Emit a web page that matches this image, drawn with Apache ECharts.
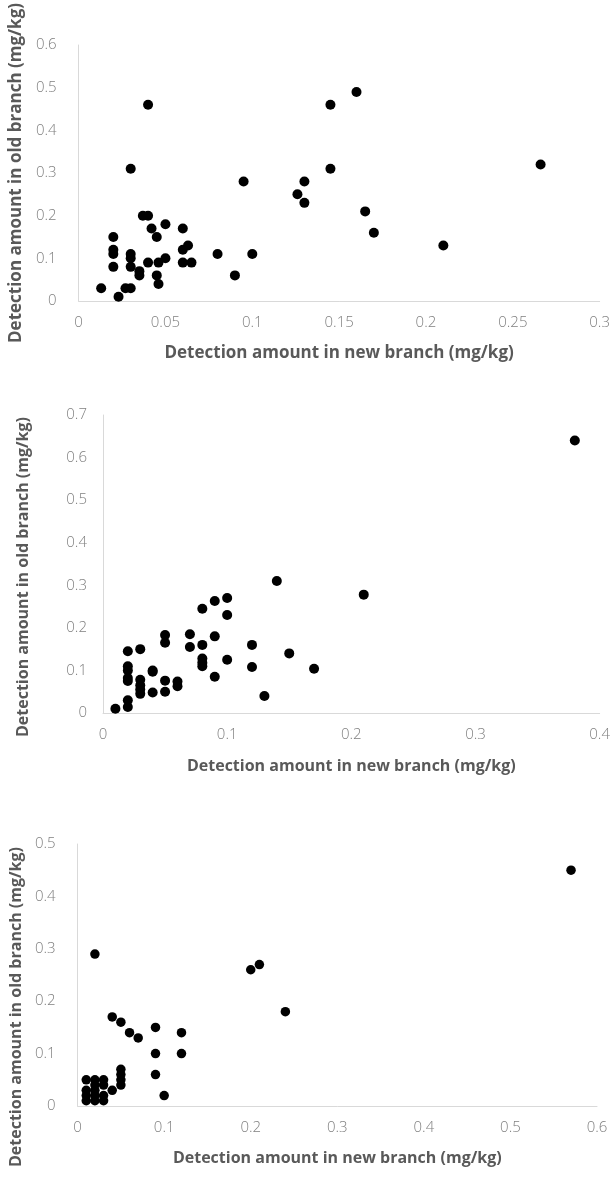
<!DOCTYPE html>
<html>
<head>
<meta charset="utf-8">
<script src="https://cdn.jsdelivr.net/npm/echarts@6/dist/echarts.min.js"></script>
<style>
html,body{margin:0;padding:0;background:#fff;}
#main{width:613px;height:1180px;}
</style>
</head>
<body>
<div id="main"></div>
<script>
// Panel 1: new branch vs old branch (mg/kg)
const panel1 = [
  [0.013,0.03],[0.023,0.01],[0.027,0.03],[0.03,0.03],
  [0.02,0.15],[0.02,0.12],[0.02,0.11],[0.02,0.08],
  [0.03,0.31],[0.03,0.11],[0.03,0.10],[0.03,0.08],
  [0.035,0.07],[0.035,0.06],[0.04,0.46],[0.037,0.20],[0.04,0.20],
  [0.042,0.17],[0.045,0.15],[0.04,0.09],[0.045,0.06],[0.046,0.04],
  [0.046,0.09],[0.05,0.10],[0.05,0.18],[0.06,0.17],[0.06,0.12],
  [0.063,0.13],[0.06,0.09],[0.065,0.09],[0.08,0.11],[0.09,0.06],
  [0.095,0.28],[0.10,0.11],[0.126,0.25],[0.13,0.28],[0.13,0.23],
  [0.145,0.46],[0.145,0.31],[0.16,0.49],[0.165,0.21],[0.17,0.16],
  [0.21,0.13],[0.266,0.32]
];
// Panel 2
const panel2 = [
  [0.01,0.01],[0.02,0.145],[0.02,0.11],[0.02,0.10],[0.02,0.082],[0.02,0.075],
  [0.02,0.03],[0.02,0.014],[0.03,0.15],[0.03,0.078],[0.03,0.065],[0.03,0.055],
  [0.03,0.045],[0.04,0.10],[0.04,0.097],[0.04,0.048],[0.05,0.183],[0.05,0.165],
  [0.05,0.076],[0.05,0.05],[0.06,0.074],[0.06,0.063],[0.07,0.185],[0.07,0.155],
  [0.08,0.245],[0.08,0.16],[0.08,0.128],[0.08,0.118],[0.08,0.11],[0.09,0.263],
  [0.09,0.18],[0.09,0.085],[0.10,0.27],[0.10,0.23],[0.10,0.125],[0.12,0.16],
  [0.12,0.108],[0.13,0.04],[0.14,0.31],[0.15,0.14],[0.17,0.104],[0.21,0.278],
  [0.38,0.64]
];
// Panel 3
const panel3 = [
  [0.02,0.29],[0.04,0.17],[0.05,0.16],[0.06,0.14],[0.07,0.13],[0.09,0.15],
  [0.09,0.10],[0.09,0.06],[0.10,0.02],[0.12,0.14],[0.12,0.10],[0.20,0.26],
  [0.21,0.27],[0.24,0.18],[0.04,0.03],[0.05,0.07],[0.05,0.06],[0.05,0.05],
  [0.05,0.04],[0.01,0.05],[0.01,0.03],[0.01,0.02],[0.01,0.01],
  [0.02,0.05],[0.02,0.04],[0.02,0.03],[0.02,0.02],[0.02,0.01],
  [0.03,0.05],[0.03,0.04],[0.03,0.02],[0.03,0.01],[0.57,0.45]
];
const xMax = [0.3, 0.4, 0.6];
const xInterval = [0.05, 0.1, 0.1];
const yMax = [0.6, 0.7, 0.5];
const yInterval = [0.1, 0.1, 0.1];
const xTitle = 'Detection amount in new branch (mg/kg)';
const yTitle = 'Detection amount in old branch (mg/kg)';

const chart = echarts.init(document.getElementById('main'));
const grids = [
  {left:76, top:15, width:524, height:286},
  {left:103, top:415, width:502, height:298},
  {left:74, top:844, width:523, height:262}
];
const titleSize = [17, 16, 16];
const tickSize = [15, 15, 15];
const yGap = [44, 72, 45];
const yPad = [[0,0,0,0],[0,26,0,0],[0,64,0,0]];
const xGap = [44, 45, 44];
const sizes = [10, 10, 9.5];
const datas = [panel1, panel2, panel3];

const axisLine = {show:true, lineStyle:{color:'#d9d9d9', width:1}};
const font = "'Open Sans', 'Noto Sans', sans-serif";

chart.setOption({
  animation:false,
  grid: grids,
  xAxis: grids.map((g,i)=>({
    type:'value', gridIndex:i, min:0, max:xMax[i], interval:xInterval[i],
    axisLine, axisTick:{show:false}, splitLine:{show:false},
    axisLabel:{color:'#808080', fontSize:tickSize[i], fontFamily:font, fontWeight:300, margin:14,
      formatter:v=>String(+v.toFixed(2))},
    name:xTitle, nameLocation:'middle', nameGap:xGap[i],
    nameTextStyle:{color:'#595959', fontSize:titleSize[i], fontWeight:'bold', fontFamily:font}
  })),
  yAxis: grids.map((g,i)=>({
    type:'value', gridIndex:i, min:0, max:yMax[i], interval:yInterval[i],
    axisLine, axisTick:{show:false}, splitLine:{show:false},
    axisLabel:{color:'#808080', fontSize:tickSize[i], fontFamily:font, fontWeight:300, margin:i===1?16:22,
      formatter:v=>String(+v.toFixed(2))},
    name:yTitle, nameLocation:'middle', nameGap:yGap[i],
    nameTextStyle:{color:'#595959', fontSize:titleSize[i], fontWeight:'bold', fontFamily:font, padding:yPad[i]}
  })),
  series: datas.map((d,i)=>({
    type:'scatter', xAxisIndex:i, yAxisIndex:i, data:d,
    symbol:'circle', symbolSize:sizes[i], itemStyle:{color:'#000', opacity:1}
  }))
});
</script>
</body>
</html>
